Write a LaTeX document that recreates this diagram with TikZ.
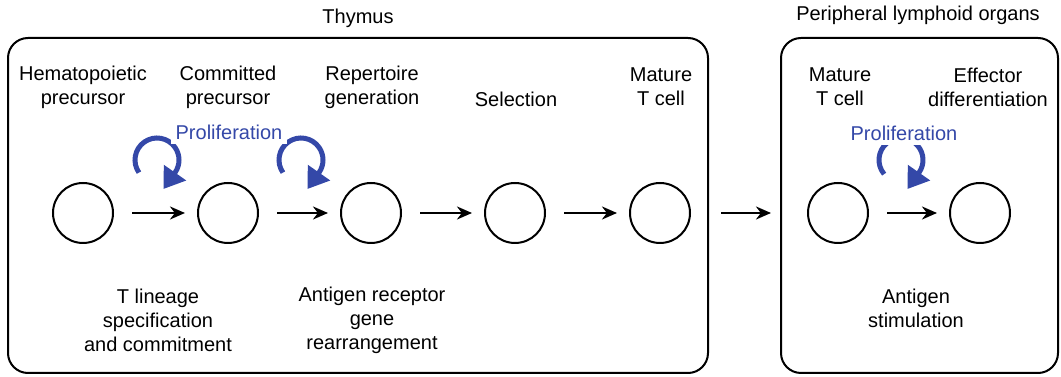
\documentclass[tikz,border=0pt]{standalone}
\usepackage{fontspec}
\setmainfont{Liberation Sans}
\usetikzlibrary{arrows.meta}
\definecolor{prolblue}{RGB}{52,72,168}
\tikzset{
  cell/.style={circle, draw, line width=2pt, minimum size=60pt, inner sep=0pt},
  lbl/.style={align=center, font=\fontsize{20}{24}\selectfont},
  organ/.style={draw, line width=2pt, rounded corners=20pt},
  go/.style={line width=2.5pt, -{Stealth[length=15pt,width=13pt]}},
  loop/.style={draw=prolblue, line width=5pt, -{Triangle[length=20pt,width=26pt]}},
}
\begin{document}
\begin{tikzpicture}[x=1pt, y=1pt]
  \useasboundingbox (0,0) rectangle (1061,377);
  % the two compartments
  \draw[organ] (8,4) rectangle (708,339);
  \draw[organ] (781,4) rectangle (1058,339);
  \node[lbl] (thy) at (358,359) {Thymus};
  \node[lbl] (per) at (918,362) {Peripheral lymphoid organs};

  % cells
  \node[cell] (hp) at (83,164) {};
  \node[cell] (cp) at (228,164) {};
  \node[cell] (rg) at (371,164) {};
  \node[cell] (se) at (515,164) {};
  \node[cell] (mt) at (660,164) {};
  \node[cell] (pm) at (838,164) {};
  \node[cell] (ef) at (980,164) {};

  \draw[go, shorten <=18pt, shorten >=12pt] (hp) -- (cp);
  \draw[go, shorten <=18pt, shorten >=12pt] (cp) -- (rg);
  \draw[go, shorten <=18pt, shorten >=12pt] (rg) -- (se);
  \draw[go, shorten <=18pt, shorten >=12pt] (se) -- (mt);
  \draw[go, shorten <=30pt, shorten >=36pt] (mt) -- (pm);
  \draw[go, shorten <=18pt, shorten >=12pt] (pm) -- (ef);

  % stage names
  \node[lbl] (hpl) at (83,290) {Hematopoietic\\precursor};
  \node[lbl] (cpl) at (228,290) {Committed\\precursor};
  \node[lbl] (rgl) at (372,290) {Repertoire\\generation};
  \node[lbl] (sel) at (516,278) {Selection};
  \node[lbl] (mtl) at (661,290) {Mature\\T cell};
  \node[lbl] (pml) at (840,290) {Mature\\T cell};
  \node[lbl] (efl) at (988,290) {Effector\\differentiation};

  % proliferation loops
  \draw[loop] (157,217) ++(215:22) arc[start angle=215, end angle=-35, radius=22] -- ++(-125:20);
  \draw[loop] (301,217) ++(215:22) arc[start angle=215, end angle=-35, radius=22] -- ++(-125:20);
  \draw[loop] (901,217) ++(220:22) arc[start angle=220, end angle=-35, radius=22] -- ++(-125:20);
  \node[lbl, text=prolblue, fill=white, inner sep=5pt] (pr1) at (229,245) {Proliferation};
  \node[lbl, text=prolblue, fill=white, inner sep=5pt] (pr2) at (904,244) {Proliferation};

  % processes below
  \node[lbl] (tls) at (158,57) {T lineage\\specification\\and commitment};
  \node[lbl] (agr) at (372,57) {Antigen receptor\\gene\\rearrangement};
  \node[lbl] (ags) at (916,69) {Antigen\\stimulation};
\end{tikzpicture}
\end{document}
